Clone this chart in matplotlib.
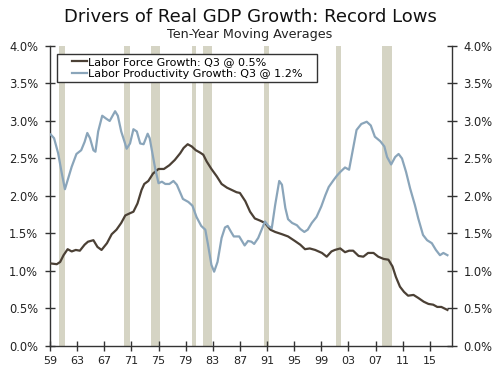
import matplotlib
matplotlib.use("Agg")
import matplotlib.pyplot as plt
from matplotlib.legend_handler import HandlerLine2D

# Labor force growth, 10-yr moving average (%)
lf_year = [1959.1, 1960.0, 1960.5, 1961.0, 1961.6, 1962.2, 1962.8, 1963.4, 1964.1, 1964.6,
           1965.4, 1966.0, 1966.6, 1967.4, 1968.1, 1968.8, 1969.5, 1970.1, 1970.8, 1971.3,
           1971.9, 1972.5, 1972.9, 1973.5, 1974.2, 1975.0, 1975.8, 1976.6, 1977.4, 1978.2,
           1978.7, 1979.3, 1979.9, 1980.5, 1981.1, 1981.6, 1982.1, 1982.8, 1983.6, 1984.3,
           1985.1, 1985.8, 1986.5, 1987.0, 1987.8, 1988.5, 1989.2, 1990.0, 1990.7, 1991.5,
           1992.2, 1993.2, 1994.1, 1995.1, 1995.9, 1996.6, 1997.3, 1998.1, 1999.1, 1999.8,
           2000.5, 2001.0, 2001.8, 2002.5, 2003.1, 2003.7, 2004.5, 2005.2, 2005.9, 2006.7,
           2007.4, 2008.2, 2008.9, 2009.5, 2010.0, 2010.6, 2011.2, 2011.8, 2012.6, 2013.3,
           2014.1, 2014.8, 2015.5, 2016.1, 2016.7, 2017.6]
lf_val = [1.10, 1.09, 1.12, 1.21, 1.29, 1.26, 1.28, 1.27, 1.35, 1.39,
          1.41, 1.32, 1.28, 1.37, 1.49, 1.55, 1.64, 1.74, 1.77, 1.79,
          1.90, 2.08, 2.16, 2.20, 2.30, 2.36, 2.36, 2.41, 2.48, 2.57,
          2.64, 2.69, 2.66, 2.61, 2.58, 2.55, 2.46, 2.36, 2.26, 2.16,
          2.11, 2.08, 2.05, 2.04, 1.93, 1.79, 1.70, 1.67, 1.64, 1.55,
          1.52, 1.49, 1.46, 1.40, 1.35, 1.29, 1.30, 1.28, 1.24, 1.19,
          1.26, 1.28, 1.30, 1.25, 1.27, 1.27, 1.20, 1.19, 1.24, 1.24,
          1.19, 1.16, 1.15, 1.06, 0.92, 0.79, 0.72, 0.67, 0.68, 0.64,
          0.59, 0.56, 0.55, 0.52, 0.52, 0.48]

# Labor productivity growth, 10-yr moving average (%)
lp_year = [1959.1, 1959.6, 1960.2, 1960.7, 1961.2, 1961.7, 1962.2, 1962.9, 1963.6, 1964.1,
           1964.5, 1964.9, 1965.4, 1965.7, 1966.1, 1966.7, 1967.3, 1967.8, 1968.6, 1969.0,
           1969.5, 1970.0, 1970.3, 1970.8, 1971.3, 1971.8, 1972.3, 1972.8, 1973.4, 1973.7,
           1974.1, 1974.5, 1975.0, 1975.5, 1976.0, 1976.6, 1977.2, 1977.7, 1978.6, 1979.4,
           1980.0, 1980.6, 1981.3, 1981.9, 1982.3, 1982.8, 1983.2, 1983.7, 1984.3, 1984.8,
           1985.2, 1985.7, 1986.1, 1986.9, 1987.7, 1988.2, 1988.7, 1989.1, 1989.7, 1990.2,
           1990.7, 1991.2, 1991.7, 1992.2, 1992.8, 1993.2, 1993.7, 1994.1, 1994.7, 1995.4,
           1995.9, 1996.5, 1997.0, 1997.6, 1998.3, 1999.0, 1999.6, 2000.1, 2000.8, 2001.3,
           2001.8, 2002.5, 2003.1, 2003.6, 2004.2, 2004.9, 2005.7, 2006.3, 2006.9, 2007.7,
           2008.3, 2008.7, 2009.3, 2009.9, 2010.4, 2010.9, 2011.5, 2012.1, 2012.8, 2013.3,
           2014.0, 2014.6, 2015.3, 2015.9, 2016.5, 2017.0, 2017.6]
lp_val = [2.82, 2.77, 2.57, 2.32, 2.09, 2.24, 2.39, 2.56, 2.61, 2.72,
          2.84, 2.77, 2.61, 2.59, 2.86, 3.07, 3.03, 3.00, 3.13, 3.07,
          2.86, 2.72, 2.63, 2.70, 2.89, 2.86, 2.70, 2.69, 2.83, 2.77,
          2.57, 2.37, 2.17, 2.19, 2.16, 2.16, 2.20, 2.15, 1.96, 1.92,
          1.87, 1.72, 1.60, 1.55, 1.35, 1.08, 0.99, 1.12, 1.44, 1.58,
          1.60, 1.52, 1.46, 1.46, 1.34, 1.40, 1.39, 1.36, 1.44, 1.55,
          1.66, 1.60, 1.57, 1.88, 2.20, 2.15, 1.84, 1.69, 1.64, 1.61,
          1.56, 1.52, 1.55, 1.64, 1.72, 1.86, 2.01, 2.12, 2.21, 2.27,
          2.32, 2.38, 2.35, 2.59, 2.88, 2.96, 2.99, 2.94, 2.79, 2.73,
          2.66, 2.52, 2.42, 2.52, 2.56, 2.50, 2.32, 2.10, 1.88, 1.70,
          1.48, 1.41, 1.37, 1.28, 1.21, 1.24, 1.21]

# NBER recessions (start, end)
recessions = [(1960.33, 1961.25), (1969.92, 1970.83), (1973.83, 1975.25),
              (1980.0, 1980.5), (1981.5, 1982.83), (1990.5, 1991.25),
              (2001.17, 2001.92), (2007.92, 2009.5)]

tick_years = list(range(1959, 2016, 4))
tick_labels = ["%02d" % (y % 100) for y in tick_years]
y_ticks = [0.0, 0.5, 1.0, 1.5, 2.0, 2.5, 3.0, 3.5, 4.0]

plt.rcParams['font.family'] = ['DejaVu Sans']

fig = plt.figure(figsize=(5, 3.68), dpi=100)
ax = fig.add_axes([0.1, 0.06, 0.803, 0.815])

for s, e in recessions:
    ax.axvspan(s, e, color='#d5d4c4', lw=0, zorder=1)

ax.plot(lf_year, lf_val, color='#4b4035', lw=1.6, label='Labor Force Growth: Q3 @ 0.5%', zorder=3)
ax.plot(lp_year, lp_val, color='#8aa5ba', lw=1.6, label='Labor Productivity Growth: Q3 @ 1.2%', zorder=3)

ax.set_xlim(1959, 2018.2)
ax.set_ylim(0, 4.0)
ax.set_xticks(tick_years)
ax.set_xticklabels(tick_labels)
ax.set_yticks(y_ticks)
ax.set_yticklabels(['%.1f%%' % v for v in y_ticks])

for side in ['left', 'right', 'bottom']:
    ax.spines[side].set_color('#333333')
    ax.spines[side].set_linewidth(1.0)
ax.spines['top'].set_visible(False)
ax.tick_params(axis='both', direction='inout', length=7, width=1, color='#333333',
               labelcolor='#222222')
ax.tick_params(axis='y', left=True, right=True, labelleft=True, labelright=True,
               pad=5, labelsize=8.3)
ax.tick_params(axis='x', pad=3.5, labelsize=8)

# legend: fixed-width box, short handles indented from the frame
leg = ax.legend(loc='upper left', bbox_to_anchor=(0.018, 0.874, 0.646, 0.1), mode='expand',
                fontsize=8, handlelength=2.4, handletextpad=0.1, borderpad=0.3,
                labelspacing=0.14, fancybox=False, framealpha=1, edgecolor='#333333',
                borderaxespad=0, handler_map={plt.Line2D: HandlerLine2D(xpad=1.05)})
leg.get_frame().set_linewidth(1.0)

fig.text(0.5, 0.953, 'Drivers of Real GDP Growth: Record Lows', ha='center', va='center',
         fontsize=13, color='#111111')
fig.text(0.5, 0.905, 'Ten-Year Moving Averages', ha='center', va='center',
         fontsize=9.2, color='#222222')

fig.savefig('out.png', dpi=100)
